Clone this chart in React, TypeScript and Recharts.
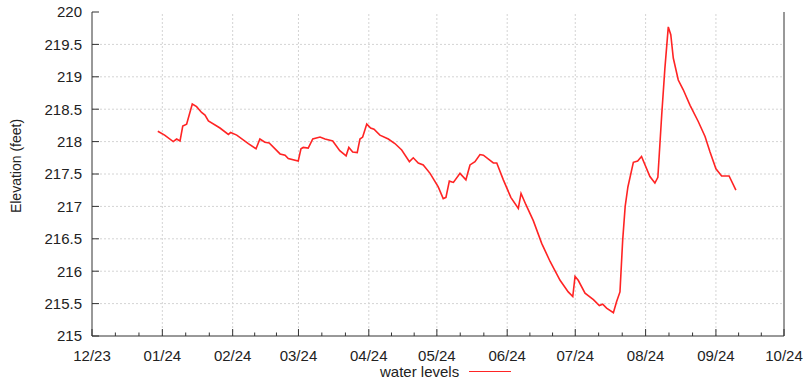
import { LineChart, Line, XAxis, YAxis, ReferenceLine } from 'recharts';

// days counted from 2023-12-01
const MONTH_STARTS = [0, 31, 62, 91, 122, 152, 183, 213, 244, 275, 305];
const MONTH_LABELS = ['12/23', '01/24', '02/24', '03/24', '04/24', '05/24', '06/24', '07/24', '08/24', '09/24', '10/24'];
const MINOR_TICKS = [10.3, 20.7, 41.3, 51.7, 71.7, 81.3, 101.3, 111.7, 132, 142, 162.3, 172.7, 193, 203, 223.3, 233.7, 254.3, 264.7, 285, 295];
const Y_TICKS = [215, 215.5, 216, 216.5, 217, 217.5, 218, 218.5, 219, 219.5, 220];

const DAYS = [
  29, 32, 35.8, 37.3, 38.8, 40, 41.7, 44.2, 46.1, 48.3, 49.8, 51.3, 56.4, 60.1, 61.1, 63.8, 68.9, 72.3, 74, 76.2,
  78.1, 82.9, 85.1, 86.5, 90.9, 92.1, 93.1, 95.3, 97.3, 100.5, 102.7, 106.1, 109.2, 112, 113.2, 114.9, 116.9, 118.1,
  119.3, 121.1, 122.8, 124.3, 126.9, 130.6, 133.5, 136.5, 139.9, 141.6, 143.8, 146, 149, 152.6, 154.8, 156, 157.5,
  159.3, 162.2, 164.8, 166.6, 168.8, 171, 172.5, 176.9, 178.4, 181.3, 184.6, 187.9, 189.1, 191.2, 194.5, 198.2,
  201.9, 206.3, 209.9, 211.9, 212.9, 214.3, 217.3, 221, 223.6, 225.1, 226.8, 229.8, 231.2, 232.7, 233.9, 235,
  236.2, 238.6, 240.5, 242.2, 245.9, 248.1, 249.4, 251.1, 252.5, 254, 255.1, 256.2, 258.4, 260.6, 263.6, 267.2,
  270.2, 272.4, 275, 277.5, 280.8, 283.8,
];
const LEVELS = [
  218.16, 218.1, 218.0, 218.04, 218.01, 218.24, 218.27, 218.58, 218.54, 218.45, 218.41, 218.32, 218.21, 218.11,
  218.14, 218.1, 217.97, 217.89, 218.04, 217.99, 217.98, 217.81, 217.79, 217.74, 217.7, 217.89, 217.91, 217.9,
  218.04, 218.07, 218.04, 218.01, 217.86, 217.78, 217.91, 217.84, 217.83, 218.04, 218.07, 218.27, 218.21, 218.19,
  218.1, 218.04, 217.97, 217.87, 217.69, 217.75, 217.67, 217.64, 217.51, 217.3, 217.12, 217.14, 217.39, 217.37,
  217.51, 217.41, 217.64, 217.69, 217.8, 217.79, 217.67, 217.67, 217.41, 217.14, 216.97, 217.2, 217.03, 216.78,
  216.43, 216.15, 215.86, 215.68, 215.61, 215.92, 215.86, 215.66, 215.56, 215.47, 215.49, 215.43, 215.36, 215.53,
  215.68, 216.48, 217.0, 217.3, 217.68, 217.7, 217.77, 217.46, 217.36, 217.45, 218.41, 219.13, 219.77, 219.65,
  219.29, 218.95, 218.8, 218.56, 218.31, 218.08, 217.84, 217.58, 217.47, 217.47, 217.25,
];

const rows = DAYS.map((day, i) => ({ day, level: LEVELS[i] }));
const xTicks = [...MONTH_STARTS, ...MINOR_TICKS].sort((a, b) => a - b);

const FONT = '"Liberation Sans", Arial, sans-serif';
const TEXT = '#222';
const AXIS = '#333';
const GRID = '#d4d4d4';
const RED = '#ff2424';

function BottomTick({ x, y, payload }: any) {
  const i = MONTH_STARTS.indexOf(payload.value);
  const major = i >= 0;
  return (
    <g>
      <line x1={x} x2={x} y1={y} y2={y - (major ? 7 : 3.5)} stroke={AXIS} />
      {major && (
        <text x={x} y={y + 25} textAnchor="middle" fontSize={15} fill={TEXT} fontFamily={FONT}>
          {MONTH_LABELS[i]}
        </text>
      )}
    </g>
  );
}

function TopTick({ x, y, payload }: any) {
  const major = MONTH_STARTS.includes(payload.value);
  return <line x1={x} x2={x} y1={y} y2={y + (major ? 7 : 3.5)} stroke={AXIS} />;
}

function LeftTick({ x, y, payload }: any) {
  return (
    <g>
      <line x1={x} x2={x + 7} y1={y} y2={y} stroke={AXIS} />
      <text x={x - 10} y={y} dy="0.36em" textAnchor="end" fontSize={15} fill={TEXT} fontFamily={FONT}>
        {String(payload.value)}
      </text>
    </g>
  );
}

export default function App() {
  return (
    <div style={{ position: 'absolute', left: 0, top: 0, width: 803, height: 383, background: '#fff', fontFamily: FONT }}>
      <LineChart width={803} height={383} data={rows} margin={{ top: 12, right: 19, bottom: 0, left: 0 }}>
        <XAxis
          xAxisId="b"
          dataKey="day"
          type="number"
          domain={[0, 305]}
          ticks={xTicks}
          interval={0}
          height={47}
          tickSize={0}
          tickMargin={0}
          tickLine={false}
          tick={<BottomTick />}
          axisLine={{ stroke: AXIS }}
          allowDataOverflow
        />
        <XAxis
          xAxisId="t"
          orientation="top"
          dataKey="day"
          type="number"
          domain={[0, 305]}
          ticks={xTicks}
          interval={0}
          height={0}
          tickSize={0}
          tickMargin={0}
          tickLine={false}
          tick={<TopTick />}
          axisLine={{ stroke: AXIS }}
          allowDataOverflow
        />
        <YAxis
          yAxisId="l"
          type="number"
          domain={[215, 220]}
          ticks={Y_TICKS}
          interval={0}
          width={92}
          tickSize={0}
          tickMargin={0}
          tickLine={false}
          tick={<LeftTick />}
          axisLine={{ stroke: AXIS }}
          allowDataOverflow
          label={{
            content: () => (
              <text x={21} y={166} transform="rotate(-90 21 166)" textAnchor="middle" fontSize={14} fill={TEXT} fontFamily={FONT}>
                Elevation (feet)
              </text>
            ),
          }}
        />
        {MONTH_STARTS.slice(1, -1).map((d) => (
          <ReferenceLine key={'vx' + d} xAxisId="b" yAxisId="l" x={d} stroke={GRID} strokeDasharray="2 2" />
        ))}
        {Y_TICKS.slice(1, -1).map((v) => (
          <ReferenceLine key={'hy' + v} xAxisId="b" yAxisId="l" y={v} stroke={GRID} strokeDasharray="2 2" />
        ))}
        <ReferenceLine xAxisId="b" yAxisId="l" x={305} stroke={AXIS} />
        <Line
          xAxisId="b"
          yAxisId="l"
          type="linear"
          dataKey="level"
          name="water levels"
          stroke={RED}
          strokeWidth={1.6}
          dot={false}
          isAnimationActive={false}
        />
      </LineChart>
      <div style={{ position: 'absolute', left: 380, top: 363, display: 'flex', alignItems: 'center', fontSize: 15, lineHeight: '17px', color: TEXT }}>
        <span>water levels</span>
        <span style={{ display: 'inline-block', width: 42, height: 0, borderTop: `1.5px solid ${RED}`, marginLeft: 10 }} />
      </div>
    </div>
  );
}
